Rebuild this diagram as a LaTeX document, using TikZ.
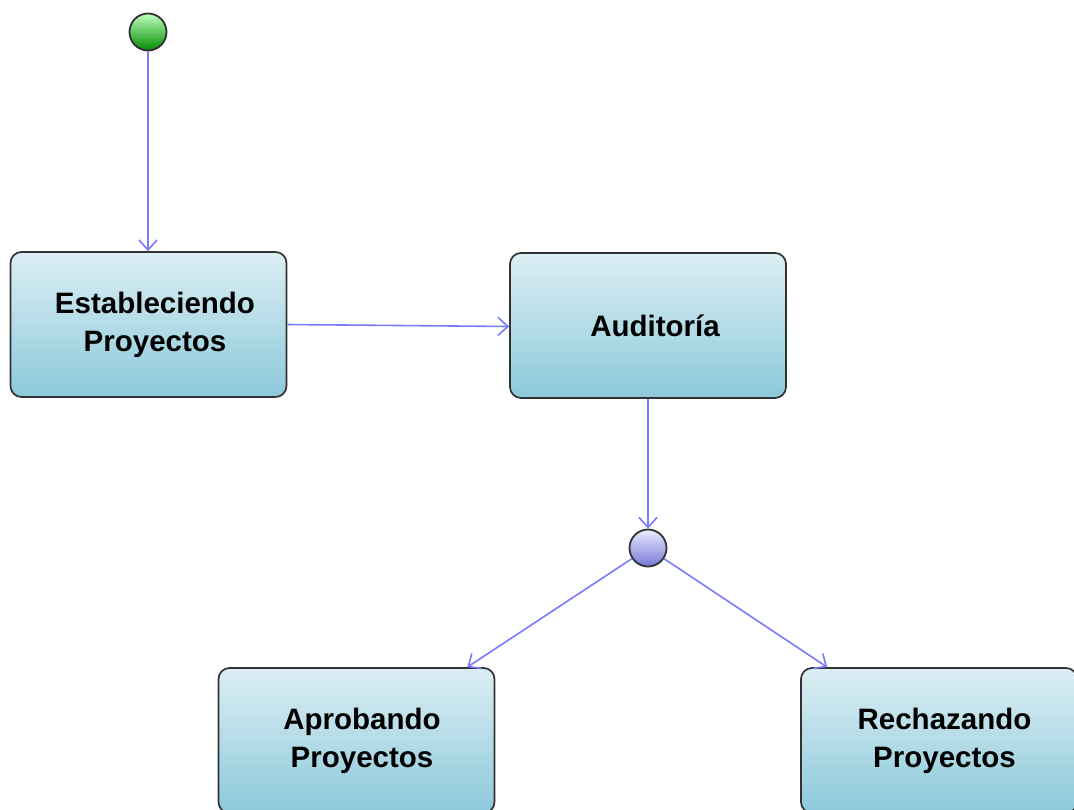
\documentclass[tikz,border=0pt]{standalone}
\usepackage{fontspec}
\setmainfont{Liberation Sans}
\usetikzlibrary{arrows.meta}
\definecolor{edgeblue}{RGB}{122,122,255}
\definecolor{boxtop}{RGB}{220,238,244}
\definecolor{boxbot}{RGB}{140,201,218}
\definecolor{framegray}{RGB}{50,50,50}
\begin{document}
\begin{tikzpicture}[x=1pt,y=-1pt,
  state/.style={draw=framegray, line width=1.7pt, rounded corners=11pt,
    top color=boxtop, bottom color=boxbot, minimum width=276pt, minimum height=145pt,
    font=\bfseries\fontsize{29.5}{38}\selectfont, align=center, text=black, inner sep=0pt},
  initial/.style={circle, draw=framegray, line width=1.8pt, minimum size=37pt, inner sep=0pt,
    top color=green!25!white, bottom color=green!55!black},
  choice/.style={circle, draw=framegray, line width=1.8pt, minimum size=37pt, inner sep=0pt,
    top color=blue!8!white, bottom color=blue!45!white!85!black},
  flow/.style={draw=edgeblue, line width=1.6pt, -{Straight Barb[length=10pt,width=18pt,line width=1.6pt]}}]
  \clip (0,0) rectangle (1074,809);
  \fill[white] (0,0) rectangle (1074,809);

  % states
  \node[initial] (s) at (148,32) {};
  \node[state] (b1) at (148.5,324.5) {\hspace*{13pt}Estableciendo\\\hspace*{13pt}Proyectos};
  \node[state] (b2) at (648,325.5) {\hspace*{14pt}Auditoría};
  \node[choice] (c) at (648,548) {};
  \node[state] (b3) at (356.5,740.5) {\hspace*{11pt}Aprobando\\\hspace*{11pt}Proyectos};
  \node[state] (b4) at (939,740.5) {\hspace*{11pt}Rechazando\\\hspace*{11pt}Proyectos};

  % transitions
  \draw[flow] (s) -- (s |- b1.north);
  \draw[flow] (b1.east) -- ([yshift=-1pt]b2.west);
  \draw[flow] (b2) -- (c);
  \draw[flow] (c) -- ([xshift=-28pt]b3.north east);
  \draw[flow] (c) -- ([xshift=27pt]b4.north west);
\end{tikzpicture}
\end{document}
